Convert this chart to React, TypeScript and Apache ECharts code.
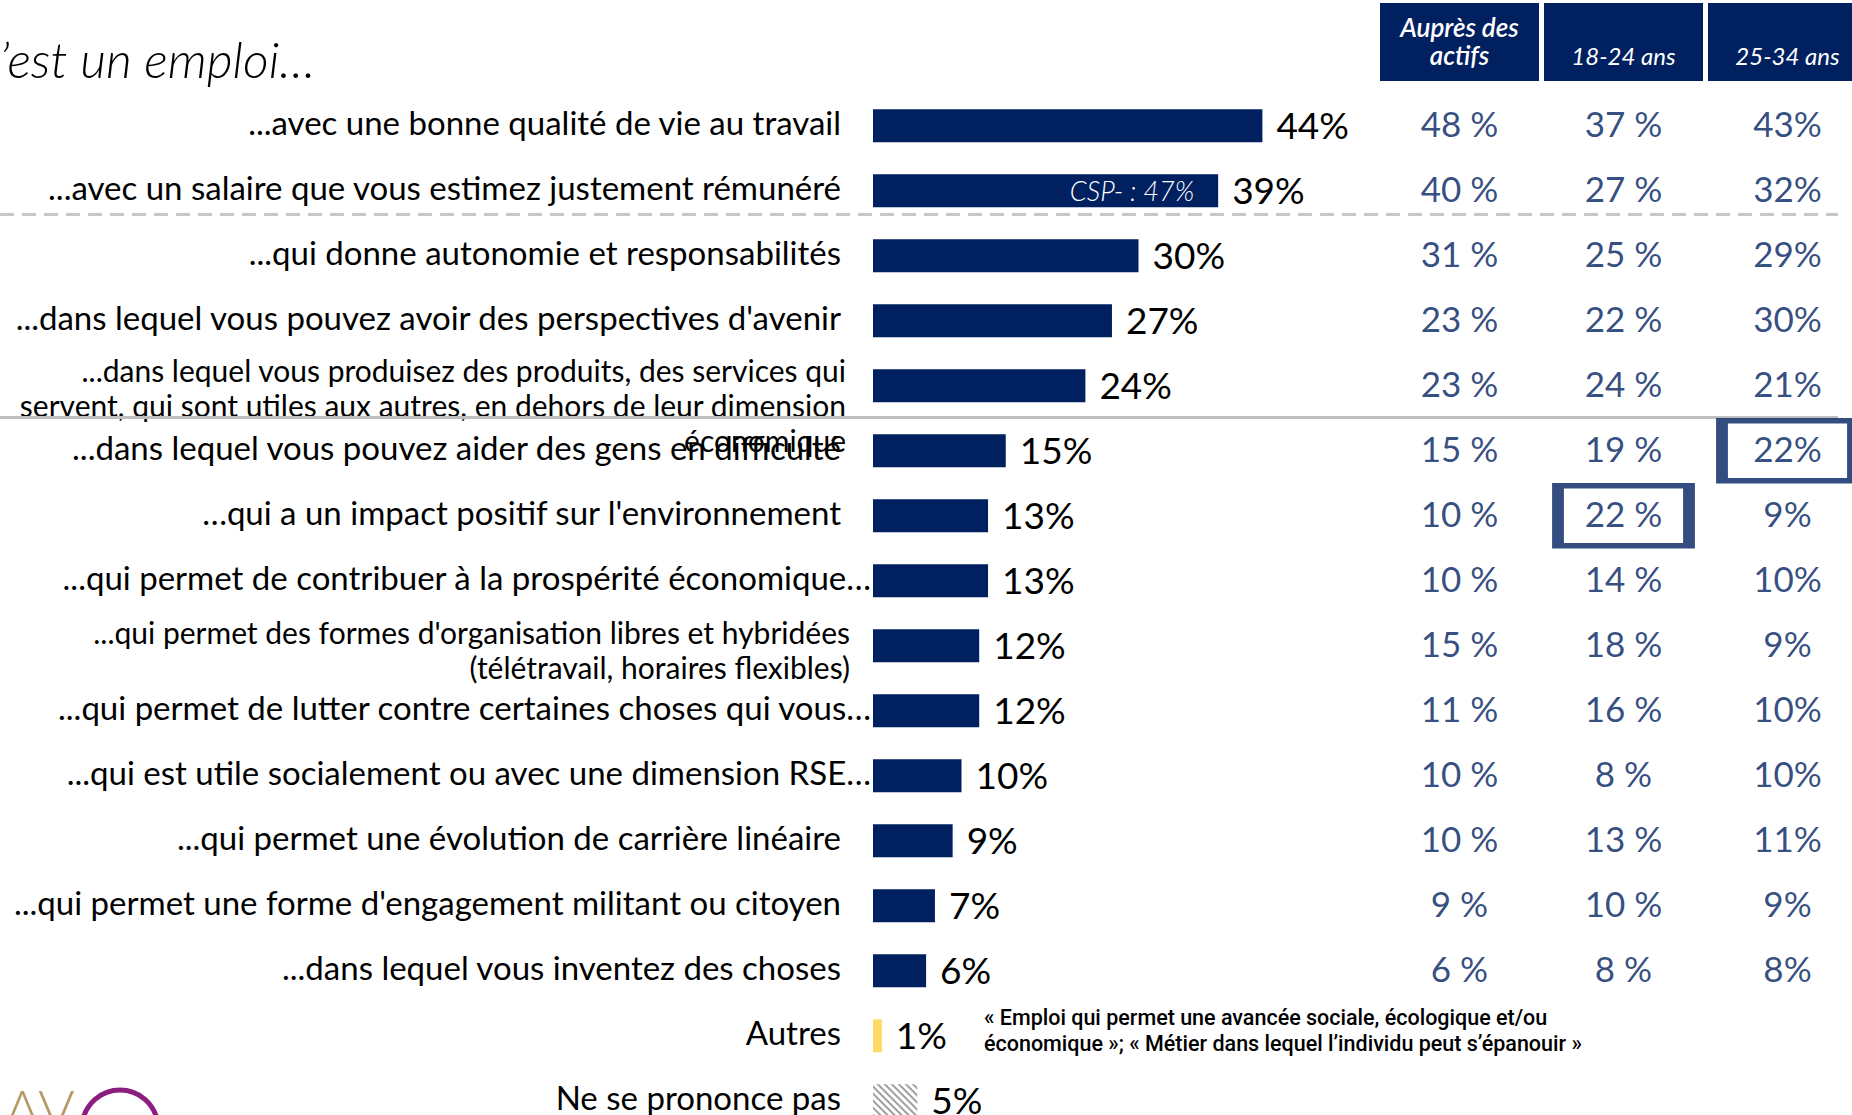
import React, { useEffect, useRef } from 'react';
import * as echarts from 'echarts';

// ---------- DATA ----------
const categories: string[] = [
  '...avec une bonne qualité de vie au travail',
  '...avec un salaire que vous estimez justement rémunéré',
  '...qui donne autonomie et responsabilités',
  "...dans lequel vous pouvez avoir des perspectives d'avenir",
  '...dans lequel vous produisez des produits, des services qui\nservent, qui sont utiles aux autres, en dehors de leur dimension\néconomique',
  '...dans lequel vous pouvez aider des gens en difficulté',
  "…qui a un impact positif sur l'environnement",
  '...qui permet de contribuer à la prospérité économique…',
  "...qui permet des formes d'organisation libres et hybridées\n(télétravail, horaires flexibles)",
  '...qui permet de lutter contre certaines choses qui vous…',
  '...qui est utile socialement ou avec une dimension RSE…',
  '...qui permet une évolution de carrière linéaire',
  "...qui permet une forme d'engagement militant ou citoyen",
  '...dans lequel vous inventez des choses',
  'Autres',
  'Ne se prononce pas',
];
const values: number[] = [44, 39, 30, 27, 24, 15, 13, 13, 12, 12, 10, 9, 7, 6, 1, 5];
const barNotes: string[] = ['', 'CSP- : 47%', '', '', '', '', '', '', '', '', '', '', '', '', '', ''];

const tableHeaders: string[] = ['Auprès des\nactifs', '18-24 ans', '25-34 ans'];
const actifs: number[] = [48, 40, 31, 23, 23, 15, 10, 10, 15, 11, 10, 10, 9, 6];
const age1824: number[] = [37, 27, 25, 22, 24, 19, 22, 14, 18, 16, 8, 13, 10, 8];
const age2534: number[] = [43, 32, 29, 30, 21, 22, 9, 10, 9, 10, 10, 11, 9, 8];
const highlightedCells: [number, number][] = [[2, 5], [1, 6]]; // [column, row]

const titleText = 'C’est un emploi…';
const footnoteText =
  '« Emploi qui permet une avancée sociale, écologique et/ou\néconomique »; « Métier dans lequel l’individu peut s’épanouir »';

// ---------- STYLE ----------
const NAVY = '#002060';
const FONT = 'Lato';
const ROW_H = 65;
const GRID_TOP = 93.3;
const BAR_LEFT = 873;
const TABLE_LEFT = 1377.5;
const COL_W = 164;

// rows whose label runs right up to the bar
const huggingRows = [7, 9, 10];
const labelPadding = (i: number): number[] => {
  if (i === 4) return [38, 25, 0, 0];
  if (i === 8) return [7, 21, 0, 0];
  if (huggingRows.includes(i)) return [0, 0, 7, 0];
  return [0, 30, 7, 0];
};

const barStyle = (i: number) => {
  if (categories[i] === 'Autres') return { color: '#FFD966' };
  if (categories[i] === 'Ne se prononce pas')
    return {
      color: '#ffffff',
      decal: {
        symbol: 'rect',
        symbolSize: 1,
        dashArrayX: [1, 0],
        dashArrayY: [1.5, 3],
        rotation: Math.PI / 4,
        color: '#a0a0a0',
      },
    };
  return { color: NAVY };
};

const tableSeriesData: any[] = [];
[actifs, age1824, age2534].forEach((col, c) => {
  col.forEach((v, r) => tableSeriesData.push([c, r, v]));
});

const option: any = {
  animation: false,
  backgroundColor: '#ffffff',
  grid: [
    { left: BAR_LEFT, top: GRID_TOP, width: 442.5, height: ROW_H * categories.length },
    { left: TABLE_LEFT, top: GRID_TOP, width: COL_W * 3, height: ROW_H * categories.length },
  ],
  xAxis: [
    { gridIndex: 0, type: 'value', min: 0, max: 50, show: false },
    {
      gridIndex: 1,
      type: 'category',
      position: 'top',
      data: tableHeaders,
      z: 5,
      axisLine: { show: false },
      axisTick: { show: false },
      splitLine: { show: false },
      axisLabel: {
        interval: 0,
        margin: 24,
        formatter: (v: string, i: number) =>
          i === 0
            ? v.split('\n').map((s) => `{a|${s}}`).join('\n')
            : `{b|${v}}`,
        rich: {
          a: {
            fontFamily: FONT,
            fontStyle: 'italic',
            fontWeight: 600,
            fontSize: 26,
            color: '#ffffff',
            lineHeight: 28,
          },
          b: {
            fontFamily: FONT,
            fontStyle: 'italic',
            fontWeight: 400,
            fontSize: 24,
            color: '#ffffff',
            lineHeight: 28,
          },
        },
      },
    },
  ],
  yAxis: [
    {
      gridIndex: 0,
      type: 'category',
      inverse: true,
      data: categories.map((c, i) => ({ value: c, textStyle: { padding: labelPadding(i) } })),
      axisLine: { show: false },
      axisTick: { show: false },
      splitLine: { show: false },
      axisLabel: {
        interval: 0,
        margin: 2,
        formatter: (v: string) =>
          v.includes('\n')
            ? v.split('\n').map((s) => `{m|${s}}`).join('\n')
            : `{s|${v}}`,
        rich: {
          s: { fontFamily: FONT, fontSize: 33, color: '#000000', lineHeight: 40 },
          m: { fontFamily: FONT, fontSize: 30, color: '#000000', lineHeight: 35 },
        },
      },
    },
    {
      gridIndex: 1,
      type: 'category',
      inverse: true,
      data: categories,
      show: false,
    },
  ],
  series: [
    {
      type: 'bar',
      xAxisIndex: 0,
      yAxisIndex: 0,
      barWidth: 33,
      barGap: '-100%',
      data: values.map((v, i) => ({ value: v, itemStyle: barStyle(i) })),
      label: {
        show: true,
        position: 'right',
        distance: 14,
        offset: [0, -1],
        formatter: '{c}%',
        fontFamily: FONT,
        fontSize: 37,
        color: '#000000',
      },
    },
    {
      type: 'bar',
      xAxisIndex: 0,
      yAxisIndex: 0,
      barWidth: 33,
      barGap: '-100%',
      silent: true,
      itemStyle: { color: 'rgba(0,0,0,0)' },
      data: values.map((v, i) => (barNotes[i] ? v : '-')),
      label: {
        show: true,
        position: 'insideRight',
        distance: 24,
        formatter: (p: any) => barNotes[p.dataIndex],
        fontFamily: FONT,
        fontStyle: 'italic',
        fontWeight: 300,
        fontSize: 27,
        color: '#ffffff',
      },
    },
    {
      type: 'scatter',
      xAxisIndex: 1,
      yAxisIndex: 1,
      symbolSize: 1,
      silent: true,
      itemStyle: { color: 'rgba(0,0,0,0)' },
      data: tableSeriesData,
      label: {
        show: true,
        position: 'inside',
        offset: [0, -3],
        formatter: (p: any) => (p.value[0] === 2 ? `${p.value[2]}%` : `${p.value[2]} %`),
        fontFamily: FONT,
        fontSize: 35,
        color: NAVY,
      },
    },
    {
      type: 'scatter',
      xAxisIndex: 1,
      yAxisIndex: 1,
      symbol: 'rect',
      symbolSize: [131, 60],
      silent: true,
      itemStyle: { color: 'rgba(0,0,0,0)', borderColor: NAVY, borderWidth: 8 },
      data: highlightedCells,
    },
  ],
  graphic: [
    ...tableHeaders.map((_, i) => ({
      type: 'rect',
      z: 1,
      shape: { x: TABLE_LEFT + 2.5 + i * COL_W, y: 3, width: 159, height: 78 },
      style: { fill: NAVY },
    })),
    {
      type: 'line',
      z: 1,
      shape: { x1: 0, y1: 214.5, x2: 1838, y2: 214.5 },
      style: { stroke: '#c8c8c8', lineWidth: 3, lineDash: [14, 8] },
    },
    {
      type: 'line',
      z: 1,
      shape: { x1: 0, y1: 417.5, x2: 1838, y2: 417.5 },
      style: { stroke: '#c0c0c0', lineWidth: 3 },
    },
    {
      type: 'text',
      x: -32,
      y: 59,
      style: {
        text: titleText,
        fontFamily: FONT,
        fontStyle: 'italic',
        fontWeight: 300,
        fontSize: 50,
        fill: '#000000',
        verticalAlign: 'middle',
      },
    },
    {
      type: 'text',
      x: 984,
      y: 1004,
      style: {
        text: footnoteText,
        fontFamily: 'Roboto',
        fontWeight: 500,
        fontSize: 21.5,
        lineHeight: 26,
        fill: '#000000',
        verticalAlign: 'top',
      },
    },
    {
      type: 'text',
      x: 4,
      y: 1080,
      style: {
        text: 'AV',
        fontFamily: FONT,
        fontWeight: 300,
        fontSize: 56,
        fill: '#B59A66',
        verticalAlign: 'top',
      },
    },
    {
      type: 'arc',
      shape: { cx: 120, cy: 1128, r: 38, startAngle: Math.PI * 1.05, endAngle: Math.PI * 1.95, clockwise: true },
      style: { stroke: '#8B1E7F', lineWidth: 5, fill: 'none' },
    },
  ],
};

export default function App() {
  const ref = useRef<HTMLDivElement>(null);
  useEffect(() => {
    document.body.style.margin = '0';
    const chart = echarts.init(ref.current!, null, { renderer: 'svg' });
    chart.setOption(option);
    return () => chart.dispose();
  }, []);
  return (
    <div
      style={{
        position: 'absolute',
        left: 0,
        top: 0,
        width: 1852,
        height: 1115,
        overflow: 'hidden',
        background: '#ffffff',
      }}
    >
      <div ref={ref} style={{ width: 1900, height: 1200 }} />
    </div>
  );
}
